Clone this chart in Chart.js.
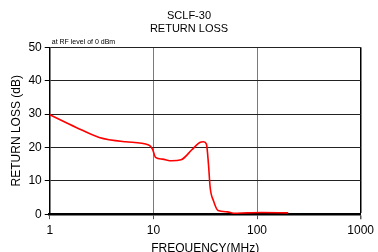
<!DOCTYPE html>
<html>
<head>
<meta charset="utf-8">
<script src="https://cdn.jsdelivr.net/npm/chart.js@4"></script>
<style>
  html, body { margin:0; padding:0; background:#fff; }
  #wrap { width:378px; height:252px; }
</style>
</head>
<body>
<div id="wrap"><canvas id="c" width="378" height="252"></canvas></div>
<script>
const freqMHz = [1, 1.8, 3, 5.4, 9, 9.8, 10.5, 12.2, 15, 18.5, 23.5, 28, 30.5, 32.5, 34, 35.3, 38, 42, 52, 59, 80, 110, 200];
const returnLoss = [29.8, 26, 23, 21.7, 20.7, 19.5, 17, 16.5, 16, 16.3, 19.3, 21.5, 21.7, 21, 15, 8, 4, 1.1, 0.7, 0.3, 0.4, 0.5, 0.4];
const xTicks = [1, 10, 100, 1000];
const titleLines = ['SCLF-30', 'RETURN LOSS'];
const note = 'at RF level of 0 dBm';

const FONT = 'Liberation Sans, Arial, sans-serif';

// small note above the plot, left corner
const notePlugin = {
  id: 'note',
  afterDraw(chart){
    const {ctx, chartArea} = chart;
    ctx.save();
    ctx.font = '7px ' + FONT;
    ctx.fillStyle = '#000';
    ctx.textBaseline = 'bottom';
    ctx.fillText(note, chartArea.left + 2, chartArea.top - 2);
    ctx.restore();
  }
};

new Chart(document.getElementById('c'), {
  type: 'line',
  data: {
    datasets: [{
      data: freqMHz.map((f, i) => ({x: f, y: returnLoss[i]})),
      borderColor: '#ff0000',
      borderWidth: 1.6,
      pointRadius: 0,
      cubicInterpolationMode: 'monotone',
      fill: false
    }]
  },
  options: {
    responsive: false,
    animation: false,
    layout: { padding: { left: 9, right: 9, top: 10, bottom: -9 } },
    plugins: {
      legend: { display: false },
      tooltip: { enabled: false },
      title: {
        display: true,
        text: titleLines,
        color: '#000',
        font: { family: FONT, size: 11, weight: 'normal', lineHeight: 1.15 },
        padding: { top: 0, bottom: 12 }
      }
    },
    scales: {
      x: {
        type: 'logarithmic',
        min: 1, max: 1000,
        afterBuildTicks: s => { s.ticks = xTicks.map(v => ({value: v})); },
        ticks: {
          color: '#000',
          font: { family: FONT, size: 12 },
          padding: 4,
          maxRotation: 0,
          callback: v => String(v)
        },
        grid: {
          color: c => (c.tick && c.tick.value === 1000) ? '#000' : '#7a7a7a',
          lineWidth: c => (c.tick && c.tick.value === 1000) ? 1.5 : 1,
          tickLength: 5,
          tickColor: '#555'
        },
        border: { color: '#000', width: 2.5 },
        title: {
          display: true,
          text: 'FREQUENCY(MHz)',
          color: '#000',
          font: { family: FONT, size: 12 },
          padding: { top: 0, bottom: 5 }
        }
      },
      y: {
        min: 0, max: 50,
        ticks: {
          stepSize: 10,
          color: '#000',
          font: { family: FONT, size: 12 },
          padding: 3
        },
        grid: {
          color: '#222',
          lineWidth: 1,
          tickLength: 5,
          tickColor: '#000'
        },
        border: { color: '#000', width: 1.5 },
        title: {
          display: true,
          text: 'RETURN LOSS (dB)',
          color: '#000',
          font: { family: FONT, size: 12 },
          padding: { top: 0, bottom: 2 }
        }
      }
    }
  },
  plugins: [notePlugin]
});
</script>
</body>
</html>
